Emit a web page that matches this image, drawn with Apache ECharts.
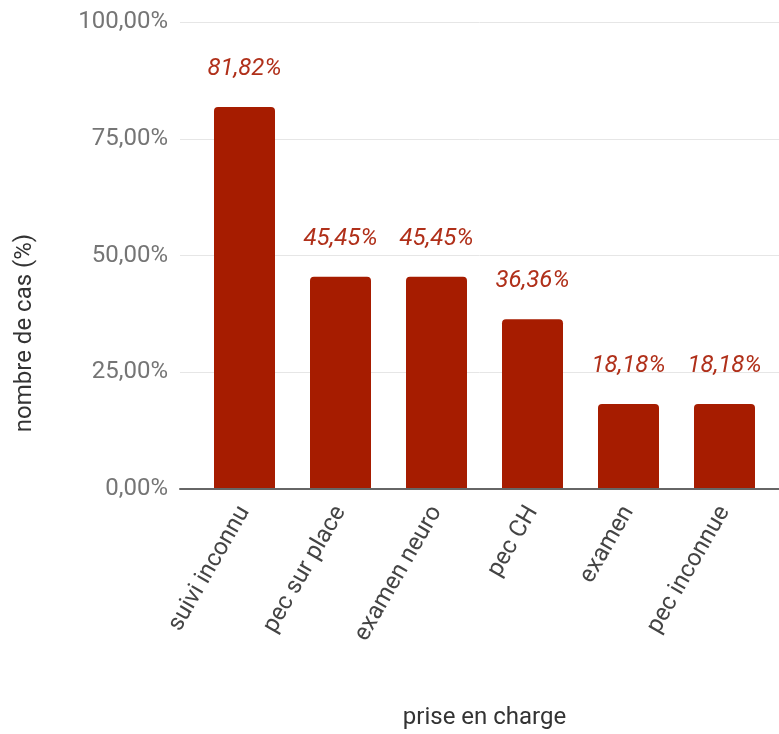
<!DOCTYPE html>
<html>
<head>
<meta charset="utf-8">
<script src="https://cdn.jsdelivr.net/npm/echarts@6/dist/echarts.min.js"></script>
<style>html,body{margin:0;padding:0;background:#fff}#c{width:779px;height:734px}</style>
</head>
<body>
<div id="c"></div>
<script>
var categories = ['suivi inconnu', 'pec sur place', 'examen neuro', 'pec CH', 'examen', 'pec inconnue'];
var values = [81.82, 45.45, 45.45, 36.36, 18.18, 18.18];
var yTicks = [0, 25, 50, 75, 100];
var xName = 'prise en charge';
var yName = 'nombre de cas (%)';

function fmt(v) { return v.toFixed(2).replace('.', ',') + '%'; }

var chart = echarts.init(document.getElementById('c'));
var FONT = 'Roboto';
chart.setOption({
  animation: false,
  backgroundColor: '#ffffff',
  grid: [
    { left: 196.5, right: 6.5, top: 22, bottom: 245, outerBoundsMode: 'none', containLabel: false },
    { left: 180, right: 0, top: 22, bottom: 245, outerBoundsMode: 'none', containLabel: false }
  ],
  xAxis: [
    {
      gridIndex: 0, type: 'category', data: categories,
      axisLine: { show: false }, axisTick: { show: false },
      axisLabel: { rotate: 60, margin: 19, padding: [12, 0, 0, 0], color: '#444444', fontFamily: FONT, fontSize: 24, interval: 0 },
      name: xName, nameLocation: 'middle', nameGap: 217,
      nameTextStyle: { color: '#333333', fontFamily: FONT, fontSize: 24 }
    },
    {
      gridIndex: 1, type: 'category', data: [''], z: 5,
      axisLine: { show: true, lineStyle: { color: '#666666', width: 2 } },
      axisTick: { show: false }, axisLabel: { show: false }
    }
  ],
  yAxis: [
    { gridIndex: 0, type: 'value', min: 0, max: 100, show: false },
    {
      gridIndex: 1, type: 'value', min: yTicks[0], max: yTicks[yTicks.length - 1], interval: 25,
      axisLine: { show: false }, axisTick: { show: false },
      axisLabel: { formatter: function (v) { return fmt(v); }, color: '#757575', fontFamily: FONT, fontSize: 24, margin: 12 },
      splitLine: { lineStyle: { color: '#e6e6e6', width: 1 } }
    }
  ],
  graphic: [{
    type: 'text', x: 25, y: 333, rotation: Math.PI / 2,
    style: { text: yName, fill: '#333333', font: '24px Roboto', align: 'center', verticalAlign: 'middle' }
  }],
  series: [{
    type: 'bar', xAxisIndex: 0, yAxisIndex: 0, data: values, barWidth: 61,
    itemStyle: { color: '#a61c00', borderRadius: [4, 4, 0, 0] },
    label: {
      show: true, position: 'top', distance: 26,
      formatter: function (p) { return fmt(p.value); },
      color: '#b0301a', fontFamily: FONT, fontSize: 24, fontStyle: 'italic'
    }
  }]
});
</script>
</body>
</html>
